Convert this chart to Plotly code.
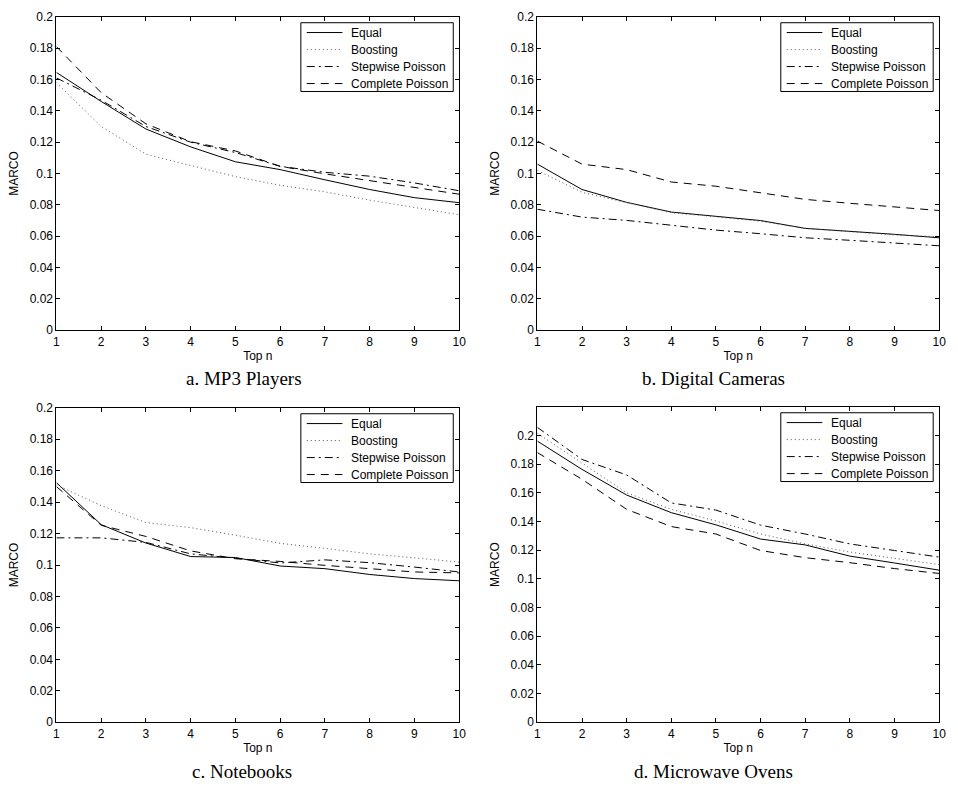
import plotly.graph_objects as go

top_n = [1, 2, 3, 4, 5, 6, 7, 8, 9, 10]
methods = ["Equal", "Boosting", "Stepwise Poisson", "Complete Poisson"]

# a. MP3 Players
mp3_equal = [0.1645, 0.146, 0.1284, 0.1170, 0.1075, 0.1025, 0.0960, 0.0898, 0.0846, 0.0814]
mp3_boost = [0.158, 0.130, 0.1123, 0.1050, 0.0980, 0.0925, 0.0883, 0.0830, 0.0785, 0.0737]
mp3_step = [0.161, 0.1468, 0.1300, 0.1200, 0.1134, 0.1046, 0.1008, 0.0983, 0.0940, 0.0890]
mp3_comp = [0.181, 0.1516, 0.1317, 0.1203, 0.1144, 0.1046, 0.0998, 0.0956, 0.0914, 0.0868]

# b. Digital Cameras
cam_equal = [0.106, 0.0898, 0.0816, 0.0754, 0.0727, 0.0700, 0.0650, 0.0633, 0.0612, 0.0590]
cam_boost = [0.102, 0.0880, 0.0814, 0.0750, 0.0724, 0.0695, 0.0650, 0.0630, 0.0608, 0.0597]
cam_step = [0.0772, 0.0722, 0.0701, 0.0668, 0.0639, 0.0616, 0.0590, 0.0574, 0.0555, 0.0539]
cam_comp = [0.1207, 0.1060, 0.1025, 0.0946, 0.0919, 0.0877, 0.0835, 0.0810, 0.0789, 0.0764]

# c. Notebooks
nb_equal = [0.1524, 0.1257, 0.1140, 0.1054, 0.1048, 0.0994, 0.0977, 0.0940, 0.0914, 0.0900]
nb_boost = [0.1510, 0.1378, 0.1270, 0.1238, 0.1190, 0.1138, 0.1106, 0.1071, 0.1046, 0.1019]
nb_step = [0.1173, 0.1173, 0.1144, 0.1071, 0.1044, 0.1013, 0.1033, 0.1015, 0.0987, 0.0956]
nb_comp = [0.1499, 0.1253, 0.1182, 0.1090, 0.1040, 0.1023, 0.0998, 0.0977, 0.0956, 0.0950]

# d. Microwave Ovens
mw_equal = [0.1961, 0.1764, 0.1585, 0.1462, 0.1377, 0.1278, 0.1237, 0.1159, 0.1111, 0.1061]
mw_boost = [0.2016, 0.1805, 0.1600, 0.1485, 0.1404, 0.1313, 0.1244, 0.1187, 0.1141, 0.1100]
mw_step = [0.2057, 0.1833, 0.1725, 0.1530, 0.1480, 0.1375, 0.1313, 0.1244, 0.1198, 0.1152]
mw_comp = [0.1881, 0.1695, 0.1485, 0.1365, 0.1313, 0.1198, 0.1148, 0.1113, 0.1072, 0.1038]

captions = ["a. MP3 Players", "b. Digital Cameras", "c. Notebooks", "d. Microwave Ovens"]
panels = [
    [mp3_equal, mp3_boost, mp3_step, mp3_comp],
    [cam_equal, cam_boost, cam_step, cam_comp],
    [nb_equal, nb_boost, nb_step, nb_comp],
    [mw_equal, mw_boost, mw_step, mw_comp],
]
y_max = [0.2, 0.2, 0.2, 0.22]
y_ticks = [0, 0.02, 0.04, 0.06, 0.08, 0.1, 0.12, 0.14, 0.16, 0.18, 0.2]
y_tick_text = ["0", "0.02", "0.04", "0.06", "0.08", "0.1", "0.12", "0.14", "0.16", "0.18", "0.2"]

# line styles
dashes = ["solid", "1px,3px", "8px,4px,2px,4px", "8px,6px"]
colors = ["black", "#555555", "black", "black"]

W, H = 958, 799
boxes = [(54, 461, 10, 329), (540, 946, 10, 329), (54, 461, 408, 728), (540, 946, 407, 728)]
legend_box = [(301, 16), (786, 16), (301, 414), (786, 413)]
caption_pos = [(244, 378), (718, 378), (242, 778), (718, 778)]

FONT = "Liberation Sans, Arial, Helvetica, sans-serif"
SERIF = "Liberation Serif, Times New Roman, serif"

def px(x):
    return x / W

def py(y):
    return 1 - y / H

fig = go.Figure()
layout = dict(
    width=W, height=H,
    margin=dict(l=0, r=0, t=0, b=0),
    paper_bgcolor="white", plot_bgcolor="white",
    font=dict(family=FONT, size=12, color="black"),
    showlegend=False,
    annotations=[], shapes=[],
)

for i, series in enumerate(panels):
    k = "" if i == 0 else str(i + 1)
    for j, vals in enumerate(series):
        fig.add_trace(go.Scatter(
            x=top_n, y=vals, mode="lines", name=methods[j],
            line=dict(color=colors[j], width=1, dash=dashes[j]),
            xaxis="x" + k, yaxis="y" + k, showlegend=False,
        ))
    l, r, t, b = boxes[i]
    common = dict(
        showline=True, linecolor="black", linewidth=1, mirror="ticks",
        ticks="inside", ticklen=4, tickcolor="black", tickwidth=1,
        showgrid=False, zeroline=False,
        tickfont=dict(family=FONT, size=12, color="black"),
    )
    layout["xaxis" + k] = dict(
        domain=[px(l), px(r)], anchor="y" + k, range=[1, 10],
        tickvals=top_n, ticktext=[str(v) for v in top_n],
        title=dict(text="Top n", standoff=3, font=dict(family=FONT, size=12)),
        **common,
    )
    layout["yaxis" + k] = dict(
        domain=[py(b), py(t)], anchor="x" + k, range=[0, y_max[i]],
        tickvals=y_ticks, ticktext=y_tick_text,
        title=dict(text="MARCO", standoff=8, font=dict(family=FONT, size=12)),
        **common,
    )
    # legend box drawn manually for MATLAB-like compact layout
    lx, ly = legend_box[i]
    layout["shapes"].append(dict(
        type="rect", xref="paper", yref="paper",
        x0=px(lx), x1=px(lx + 154), y0=py(ly), y1=py(ly + 70),
        line=dict(color="black", width=1), fillcolor="white", layer="above",
    ))
    for j, name in enumerate(methods):
        ry = ly + 10 + 17.3 * j
        layout["shapes"].append(dict(
            type="line", xref="paper", yref="paper",
            x0=px(lx + 6), x1=px(lx + 42), y0=py(ry), y1=py(ry),
            line=dict(color=colors[j], width=1, dash=dashes[j]), layer="above",
        ))
        layout["annotations"].append(dict(
            text=name, x=px(lx + 49), y=py(ry), xref="paper", yref="paper",
            xanchor="left", yanchor="middle", showarrow=False,
            font=dict(family=FONT, size=12, color="black"),
        ))
    cx, cy = caption_pos[i]
    layout["annotations"].append(dict(
        text=captions[i], x=px(cx), y=py(cy), xref="paper", yref="paper",
        xanchor="center", yanchor="middle", showarrow=False,
        font=dict(family=SERIF, size=19, color="black"),
    ))

fig.update_layout(**layout)
fig.write_html("out.html")
